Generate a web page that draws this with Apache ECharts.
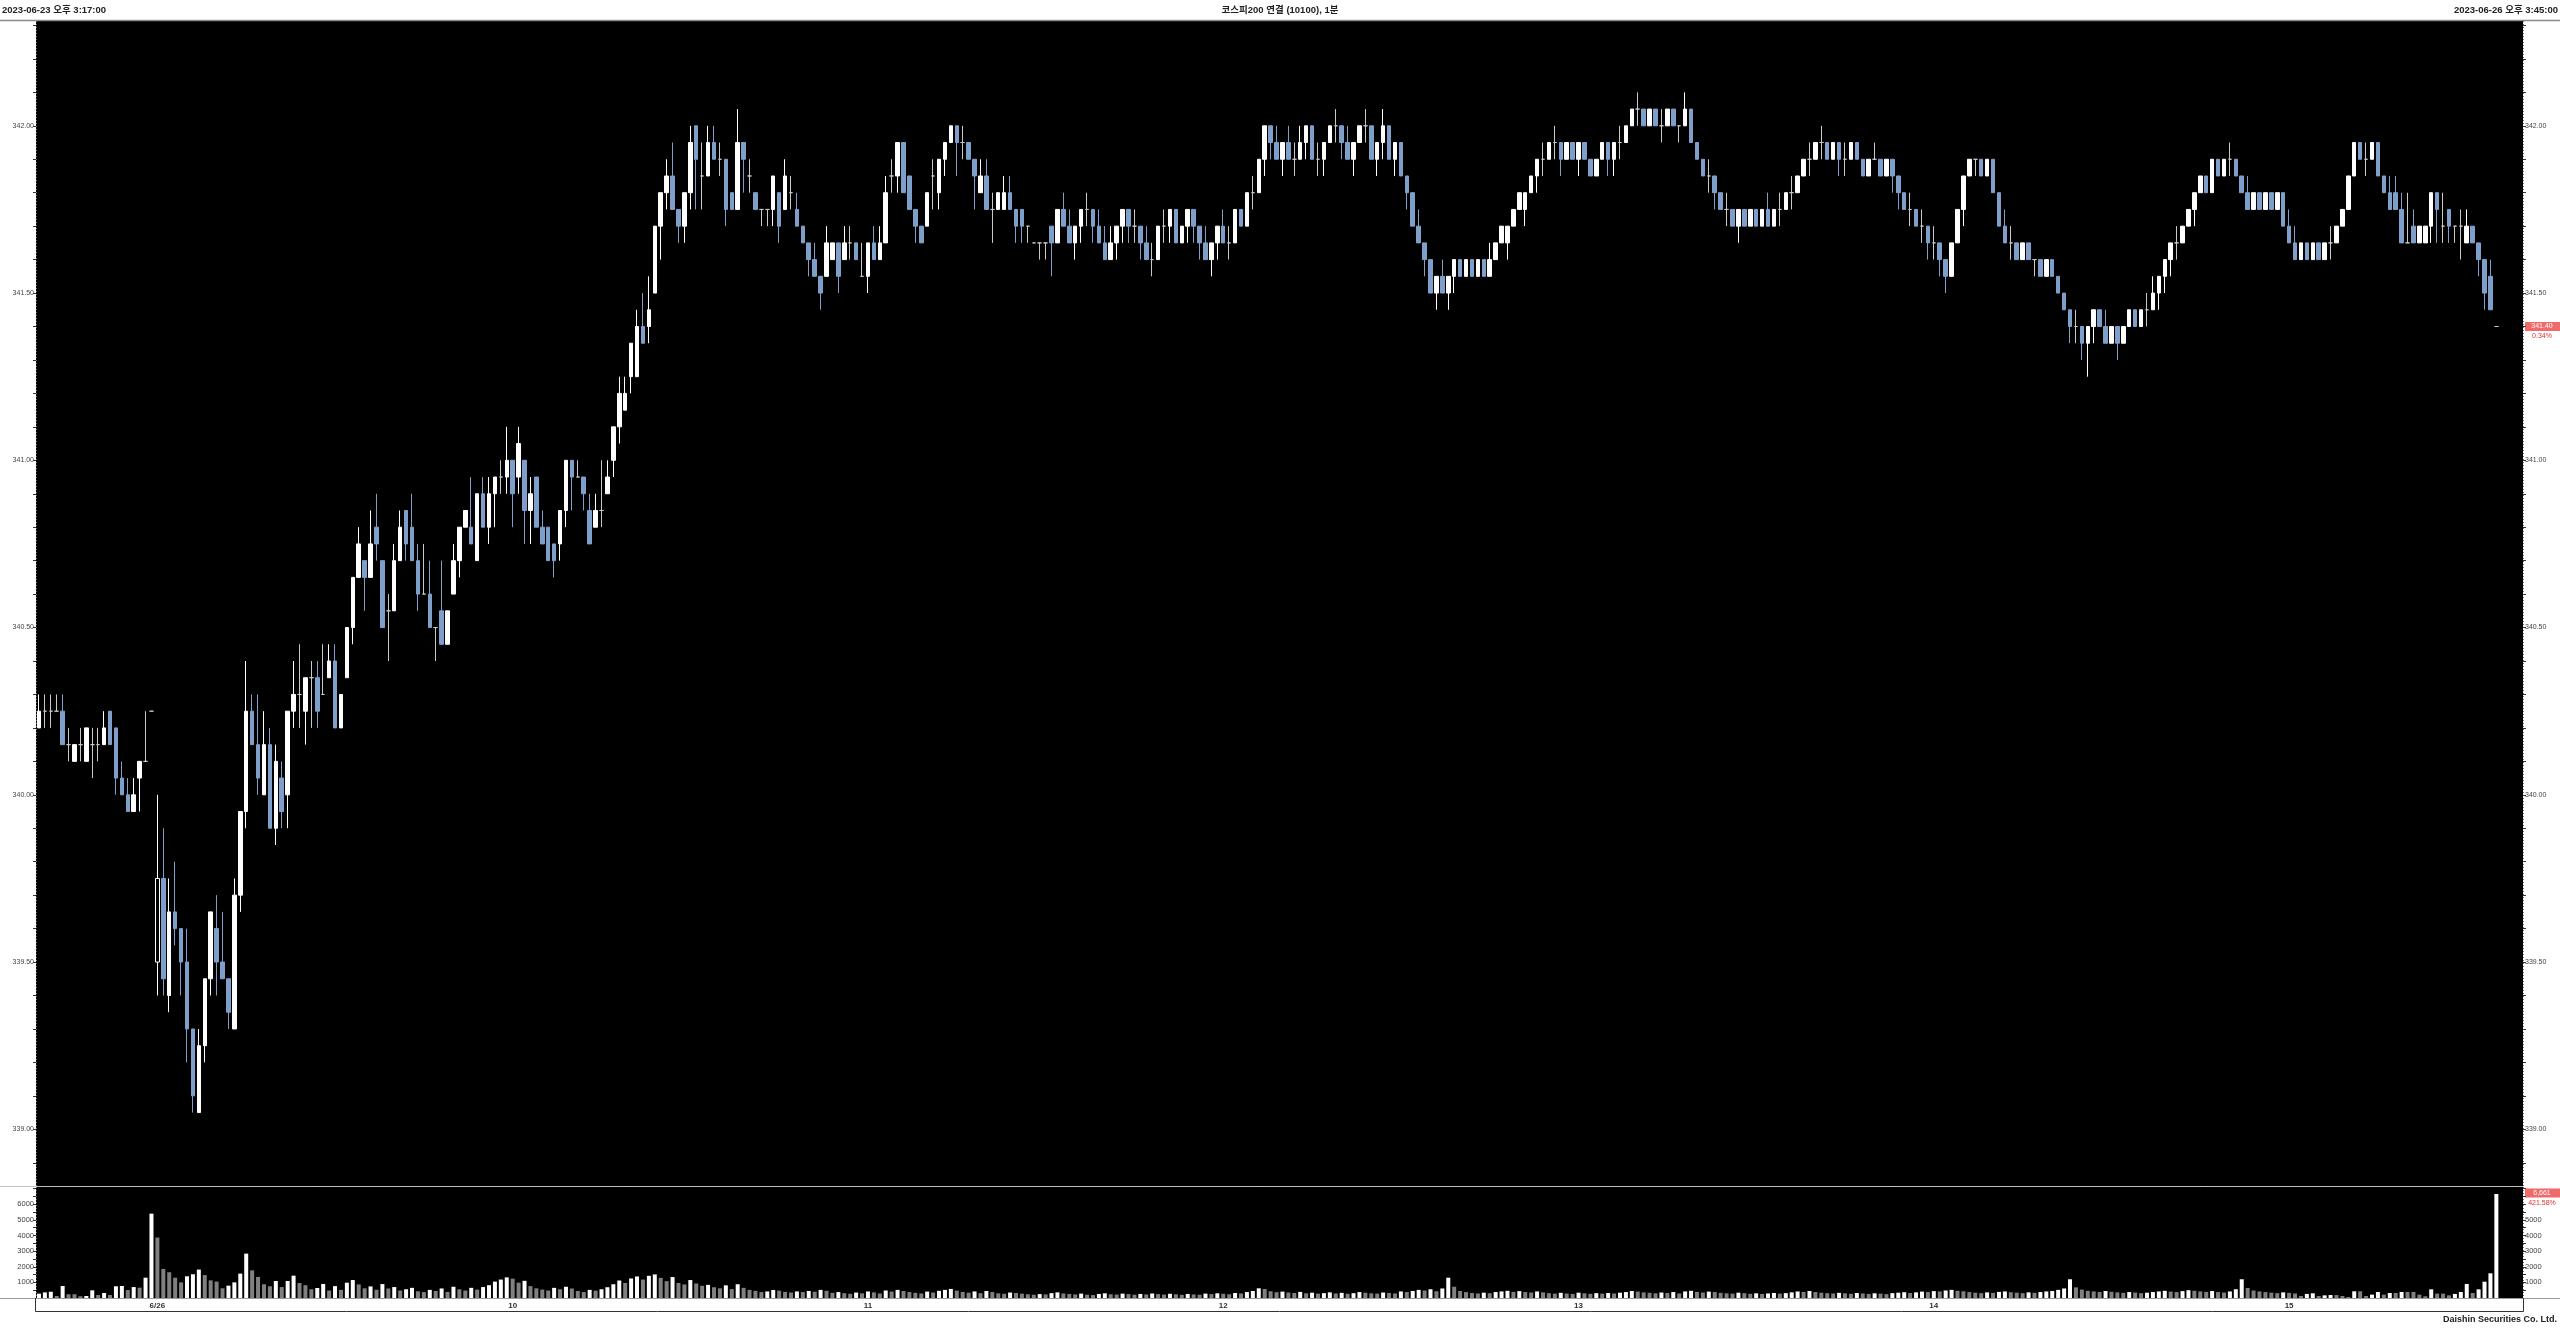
<!DOCTYPE html>
<html><head><meta charset="utf-8">
<script src="https://cdn.jsdelivr.net/npm/echarts@6/dist/echarts.min.js"></script>
<style>html,body{margin:0;padding:0;background:#fff}#c{width:2560px;height:1328px}</style>
</head><body><div id="c"></div>
<script>
const openP = [
340.20,340.25,340.25,340.25,340.25,340.15,340.10,340.15,340.10,340.15,
340.15,340.15,340.25,340.20,340.05,340.00,339.95,340.05,340.10,340.25,
339.50,339.75,339.40,339.65,339.60,339.50,339.30,339.05,339.25,339.45,
339.60,339.50,339.45,339.30,339.70,339.95,340.25,340.15,340.00,340.15,
339.90,340.05,340.00,340.25,340.30,340.25,340.35,340.35,340.30,340.35,
340.40,340.20,340.35,340.50,340.65,340.70,340.65,340.80,340.70,340.55,
340.55,340.70,340.85,340.80,340.70,340.60,340.60,340.50,340.55,340.45,
340.60,340.70,340.80,340.80,340.70,340.90,340.80,340.90,340.95,340.95,
341.00,340.95,341.00,340.85,340.95,340.80,340.80,340.75,340.75,340.85,
341.00,340.95,340.95,340.85,340.80,340.85,340.90,341.00,341.10,341.15,
341.25,341.25,341.40,341.40,341.50,341.70,341.80,341.85,341.75,341.70,
341.80,342.00,341.85,341.85,341.95,341.90,341.90,341.80,341.75,341.95,
341.85,341.80,341.75,341.75,341.75,341.80,341.75,341.80,341.75,341.70,
341.65,341.60,341.55,341.55,341.60,341.65,341.60,341.65,341.65,341.55,
341.55,341.65,341.60,341.65,341.85,341.85,341.95,341.85,341.75,341.70,
341.70,341.85,341.80,341.90,341.95,342.00,341.95,341.95,341.90,341.80,
341.85,341.75,341.75,341.75,341.80,341.75,341.75,341.70,341.65,341.65,
341.65,341.70,341.65,341.75,341.70,341.65,341.70,341.75,341.75,341.70,
341.65,341.60,341.65,341.70,341.75,341.70,341.70,341.65,341.60,341.60,
341.70,341.70,341.75,341.65,341.70,341.75,341.70,341.65,341.60,341.65,
341.70,341.65,341.65,341.75,341.70,341.80,341.80,341.90,342.00,341.95,
341.90,341.95,341.90,341.90,341.95,342.00,341.90,341.90,341.95,342.00,
342.00,341.95,341.90,341.95,342.00,342.00,341.90,341.95,342.00,341.90,
341.95,341.85,341.80,341.70,341.65,341.60,341.50,341.55,341.50,341.55,
341.60,341.55,341.60,341.55,341.60,341.55,341.60,341.65,341.65,341.70,
341.75,341.75,341.80,341.85,341.90,341.90,341.95,341.95,341.90,341.95,
341.90,341.95,341.90,341.85,341.90,341.95,341.90,341.95,341.95,342.00,
342.05,342.05,342.00,342.05,342.00,342.00,342.05,342.00,342.00,342.05,
341.95,341.90,341.85,341.85,341.80,341.75,341.75,341.70,341.75,341.70,
341.75,341.70,341.75,341.70,341.75,341.75,341.80,341.80,341.85,341.90,
341.90,341.95,341.95,341.90,341.95,341.90,341.90,341.95,341.90,341.85,
341.90,341.90,341.85,341.90,341.85,341.80,341.75,341.75,341.70,341.70,
341.65,341.65,341.60,341.55,341.65,341.75,341.85,341.90,341.90,341.85,
341.90,341.80,341.70,341.65,341.65,341.60,341.65,341.60,341.60,341.55,
341.60,341.55,341.50,341.45,341.40,341.40,341.35,341.40,341.45,341.40,
341.35,341.40,341.35,341.40,341.45,341.40,341.45,341.45,341.50,341.55,
341.60,341.65,341.65,341.70,341.75,341.80,341.85,341.80,341.90,341.85,
341.90,341.90,341.85,341.80,341.75,341.80,341.75,341.80,341.75,341.80,
341.70,341.65,341.60,341.65,341.60,341.65,341.60,341.65,341.65,341.70,
341.75,341.85,341.95,341.90,341.90,341.95,341.85,341.80,341.80,341.75,
341.65,341.70,341.65,341.65,341.70,341.80,341.70,341.75,341.70,341.70,
341.65,341.70,341.65,341.60,341.55,341.40];
const highP = [
340.30,340.30,340.30,340.30,340.30,340.20,340.15,340.20,340.20,340.20,
340.20,340.25,340.25,340.20,340.10,340.05,340.05,340.10,340.25,340.25,
340.00,339.90,339.75,339.80,339.60,339.60,339.30,339.30,339.45,339.65,
339.70,339.65,339.45,339.75,339.95,340.40,340.30,340.30,340.25,340.20,
340.15,340.10,340.25,340.40,340.45,340.35,340.40,340.40,340.45,340.45,
340.45,340.30,340.50,340.65,340.80,340.70,340.85,340.90,340.70,340.60,
340.75,340.85,340.85,340.90,340.75,340.75,340.70,340.50,340.70,340.55,
340.75,340.80,340.85,340.95,340.90,340.95,340.95,340.95,341.00,341.10,
341.00,341.10,341.00,340.95,340.95,340.85,340.80,340.75,340.85,341.00,
341.00,341.00,340.95,340.90,340.90,341.00,341.00,341.10,341.25,341.25,
341.35,341.45,341.50,341.55,341.70,341.80,341.90,341.95,341.75,341.80,
342.00,342.00,341.95,342.00,342.00,341.95,341.90,341.80,342.05,341.95,
341.90,341.80,341.75,341.75,341.85,341.80,341.90,341.85,341.80,341.70,
341.65,341.65,341.55,341.70,341.65,341.65,341.70,341.70,341.65,341.65,
341.65,341.70,341.70,341.85,341.90,341.95,341.95,341.85,341.75,341.70,
341.80,341.90,341.90,341.95,342.00,342.00,342.00,341.95,341.90,341.90,
341.90,341.80,341.80,341.85,341.85,341.75,341.75,341.70,341.65,341.65,
341.65,341.70,341.75,341.80,341.75,341.70,341.75,341.80,341.75,341.75,
341.70,341.70,341.70,341.75,341.75,341.75,341.70,341.70,341.65,341.70,
341.75,341.75,341.75,341.70,341.75,341.75,341.70,341.70,341.65,341.70,
341.75,341.70,341.75,341.75,341.80,341.85,341.90,342.00,342.00,342.00,
341.95,342.00,341.95,342.00,342.00,342.00,341.95,341.95,342.00,342.05,
342.00,342.00,341.95,342.00,342.05,342.00,341.95,342.05,342.00,341.95,
341.95,341.85,341.80,341.75,341.65,341.60,341.55,341.60,341.55,341.60,
341.60,341.60,341.60,341.60,341.60,341.65,341.65,341.70,341.70,341.75,
341.80,341.80,341.85,341.90,341.95,341.95,342.00,341.95,341.95,341.95,
341.95,341.95,341.90,341.90,341.95,341.95,341.95,342.00,342.00,342.05,
342.10,342.05,342.05,342.05,342.05,342.05,342.05,342.00,342.10,342.05,
341.95,341.90,341.90,341.85,341.80,341.80,341.75,341.75,341.75,341.75,
341.75,341.75,341.80,341.75,341.80,341.80,341.85,341.85,341.90,341.95,
341.95,342.00,341.95,341.95,341.95,341.95,341.95,341.95,341.90,341.90,
341.95,341.90,341.90,341.90,341.85,341.80,341.80,341.75,341.75,341.70,
341.70,341.65,341.60,341.65,341.75,341.85,341.90,341.90,341.90,341.90,
341.90,341.80,341.75,341.70,341.65,341.65,341.65,341.60,341.60,341.60,
341.60,341.55,341.50,341.45,341.45,341.40,341.40,341.45,341.45,341.45,
341.40,341.40,341.40,341.45,341.45,341.45,341.50,341.55,341.55,341.60,
341.65,341.70,341.70,341.75,341.80,341.85,341.85,341.90,341.90,341.90,
341.95,341.90,341.85,341.85,341.80,341.80,341.80,341.80,341.80,341.80,
341.75,341.70,341.65,341.65,341.65,341.65,341.65,341.70,341.70,341.75,
341.85,341.95,341.95,341.95,341.95,341.95,341.85,341.85,341.85,341.80,
341.80,341.75,341.70,341.70,341.80,341.80,341.80,341.75,341.70,341.75,
341.75,341.70,341.65,341.60,341.60,341.40];
const lowP = [
340.20,340.20,340.20,340.25,340.15,340.10,340.10,340.10,340.10,340.05,
340.10,340.15,340.15,340.00,340.00,339.95,339.95,339.95,340.10,340.25,
339.40,339.40,339.35,339.55,339.40,339.20,339.05,339.05,339.20,339.40,
339.40,339.45,339.30,339.30,339.65,339.90,340.15,340.00,340.00,339.90,
339.85,339.90,339.90,340.20,340.20,340.15,340.20,340.20,340.30,340.35,
340.20,340.20,340.35,340.45,340.65,340.55,340.65,340.70,340.50,340.40,
340.55,340.70,340.70,340.70,340.55,340.60,340.50,340.40,340.45,340.45,
340.60,340.65,340.80,340.75,340.70,340.80,340.75,340.80,340.90,340.90,
340.80,340.90,340.75,340.75,340.80,340.75,340.70,340.65,340.70,340.80,
340.85,340.95,340.85,340.75,340.80,340.80,340.90,340.95,341.05,341.15,
341.20,341.25,341.35,341.35,341.50,341.60,341.75,341.75,341.65,341.65,
341.75,341.75,341.75,341.85,341.90,341.85,341.70,341.75,341.75,341.80,
341.80,341.75,341.70,341.70,341.70,341.65,341.75,341.75,341.70,341.65,
341.55,341.55,341.45,341.55,341.60,341.50,341.60,341.60,341.60,341.55,
341.50,341.60,341.60,341.65,341.80,341.80,341.80,341.75,341.65,341.65,
341.70,341.75,341.75,341.85,341.95,341.85,341.90,341.90,341.75,341.80,
341.75,341.65,341.75,341.75,341.75,341.65,341.65,341.65,341.65,341.60,
341.60,341.55,341.65,341.70,341.65,341.60,341.65,341.70,341.65,341.65,
341.60,341.60,341.60,341.65,341.65,341.65,341.60,341.60,341.55,341.60,
341.65,341.65,341.65,341.65,341.65,341.65,341.60,341.60,341.55,341.60,
341.65,341.60,341.65,341.70,341.70,341.75,341.80,341.85,341.90,341.90,
341.85,341.90,341.85,341.90,341.90,341.90,341.85,341.85,341.95,341.95,
341.90,341.90,341.85,341.95,341.95,341.90,341.85,341.90,341.90,341.85,
341.85,341.75,341.70,341.65,341.55,341.50,341.45,341.50,341.45,341.50,
341.55,341.55,341.55,341.55,341.55,341.55,341.60,341.65,341.60,341.70,
341.75,341.70,341.80,341.80,341.85,341.90,341.90,341.85,341.90,341.90,
341.85,341.90,341.85,341.85,341.90,341.85,341.85,341.90,341.95,342.00,
342.00,342.00,342.00,342.00,341.95,342.00,342.00,341.95,342.00,341.95,
341.90,341.85,341.80,341.75,341.75,341.70,341.70,341.65,341.70,341.70,
341.70,341.70,341.70,341.70,341.70,341.75,341.75,341.80,341.85,341.85,
341.90,341.90,341.90,341.90,341.85,341.85,341.90,341.90,341.85,341.85,
341.90,341.85,341.85,341.80,341.75,341.75,341.70,341.70,341.65,341.60,
341.60,341.55,341.50,341.55,341.65,341.70,341.85,341.85,341.85,341.85,
341.80,341.70,341.65,341.60,341.60,341.60,341.60,341.55,341.55,341.55,
341.55,341.50,341.45,341.35,341.35,341.30,341.25,341.35,341.40,341.35,
341.35,341.30,341.35,341.40,341.40,341.40,341.40,341.45,341.45,341.50,
341.55,341.60,341.65,341.70,341.70,341.80,341.80,341.80,341.85,341.85,
341.85,341.85,341.80,341.75,341.75,341.75,341.75,341.75,341.75,341.70,
341.65,341.60,341.60,341.60,341.60,341.60,341.60,341.60,341.65,341.70,
341.75,341.85,341.90,341.85,341.90,341.85,341.80,341.75,341.75,341.65,
341.65,341.65,341.65,341.65,341.65,341.65,341.65,341.65,341.65,341.60,
341.65,341.65,341.55,341.45,341.45,341.40];
const closeP = [
340.25,340.25,340.25,340.25,340.15,340.15,340.15,340.15,340.20,340.15,
340.15,340.20,340.15,340.05,340.00,339.95,340.00,340.10,340.10,340.25,
339.75,339.45,339.65,339.60,339.50,339.30,339.10,339.25,339.45,339.65,
339.50,339.45,339.35,339.70,339.95,340.25,340.15,340.05,340.15,339.90,
340.10,339.95,340.25,340.30,340.30,340.35,340.35,340.25,340.30,340.40,
340.20,340.30,340.50,340.65,340.75,340.65,340.75,340.75,340.50,340.55,
340.70,340.80,340.75,340.70,340.60,340.60,340.50,340.50,340.45,340.55,
340.70,340.80,340.85,340.75,340.90,340.80,340.90,340.95,340.95,341.00,
340.90,341.05,340.85,340.90,340.80,340.75,340.70,340.70,340.85,341.00,
340.95,340.95,340.90,340.75,340.85,340.85,340.95,341.10,341.20,341.20,
341.35,341.40,341.35,341.45,341.70,341.80,341.85,341.75,341.70,341.80,
341.95,341.90,341.85,341.95,341.90,341.90,341.75,341.75,341.95,341.90,
341.85,341.75,341.75,341.75,341.85,341.70,341.85,341.80,341.70,341.65,
341.60,341.55,341.50,341.65,341.65,341.55,341.65,341.65,341.60,341.55,
341.65,341.60,341.65,341.80,341.85,341.95,341.80,341.75,341.70,341.65,
341.80,341.85,341.90,341.95,342.00,341.95,341.95,341.90,341.85,341.85,
341.75,341.75,341.80,341.80,341.75,341.70,341.70,341.70,341.65,341.65,
341.65,341.65,341.75,341.70,341.65,341.70,341.75,341.75,341.70,341.65,
341.60,341.65,341.70,341.75,341.70,341.70,341.65,341.60,341.60,341.70,
341.70,341.75,341.65,341.70,341.75,341.70,341.65,341.60,341.65,341.70,
341.65,341.65,341.75,341.70,341.80,341.80,341.90,342.00,341.95,341.90,
341.95,341.90,341.90,341.95,342.00,341.90,341.90,341.95,342.00,342.00,
341.95,341.90,341.95,342.00,342.00,341.90,341.95,342.00,341.90,341.95,
341.85,341.80,341.70,341.65,341.60,341.50,341.55,341.50,341.55,341.60,
341.55,341.60,341.55,341.60,341.55,341.60,341.65,341.70,341.70,341.75,
341.80,341.80,341.85,341.90,341.90,341.95,341.95,341.90,341.95,341.90,
341.95,341.90,341.85,341.90,341.95,341.90,341.95,341.95,342.00,342.05,
342.05,342.00,342.05,342.00,342.00,342.05,342.00,342.00,342.05,341.95,
341.90,341.85,341.85,341.80,341.75,341.75,341.70,341.75,341.70,341.75,
341.70,341.75,341.70,341.75,341.75,341.80,341.80,341.85,341.90,341.90,
341.95,341.95,341.90,341.95,341.90,341.90,341.95,341.90,341.85,341.90,
341.90,341.85,341.90,341.85,341.80,341.75,341.75,341.70,341.70,341.65,
341.65,341.60,341.55,341.65,341.75,341.85,341.90,341.90,341.85,341.90,
341.80,341.70,341.65,341.65,341.60,341.65,341.60,341.60,341.55,341.60,
341.55,341.50,341.45,341.40,341.40,341.35,341.40,341.45,341.40,341.35,
341.40,341.35,341.40,341.45,341.40,341.45,341.45,341.50,341.55,341.60,
341.65,341.65,341.70,341.75,341.80,341.85,341.80,341.90,341.85,341.90,
341.90,341.85,341.80,341.75,341.80,341.75,341.80,341.75,341.80,341.70,
341.65,341.60,341.65,341.60,341.65,341.60,341.65,341.65,341.70,341.75,
341.85,341.95,341.90,341.90,341.95,341.85,341.80,341.75,341.75,341.65,
341.65,341.65,341.70,341.70,341.80,341.75,341.70,341.70,341.70,341.70,
341.70,341.65,341.60,341.50,341.45,341.40];
const volume = [
280,360,400,130,770,240,240,110,130,490,
190,320,190,750,770,510,700,660,1300,5400,
3870,1860,1650,1300,1000,1390,1520,1820,1470,1130,
1050,620,790,1000,1560,2840,1770,1350,880,750,
1090,700,1090,1430,960,820,560,640,900,480,
760,520,980,1150,870,620,740,530,890,610,
700,480,560,650,430,380,520,450,610,390,
720,560,480,650,540,700,820,1050,1180,1320,
1240,980,1100,760,620,540,480,650,560,720,
610,450,380,520,470,560,690,880,1120,960,
1250,1380,1180,1420,1510,1290,1080,1340,960,870,
1150,930,780,840,690,620,810,570,880,650,
520,460,380,420,510,470,390,350,420,380,
450,400,520,460,330,380,310,270,350,300,
420,360,290,480,410,520,450,380,330,290,
410,350,460,520,580,470,390,340,420,310,
450,380,300,270,350,320,280,240,210,250,
230,310,360,290,260,230,280,210,190,260,
300,240,220,280,250,210,260,230,290,250,
220,270,240,200,260,230,210,280,250,300,
270,240,320,290,380,450,620,580,430,370,
410,350,320,390,300,340,280,310,360,290,
330,270,310,380,340,300,280,350,320,290,
420,380,450,520,480,560,430,610,1300,720,
450,380,320,290,340,310,380,420,460,390,
440,380,350,420,360,310,280,330,290,260,
340,300,270,310,280,320,290,340,380,450,
410,360,330,300,350,320,380,290,420,460,
390,350,410,380,330,300,280,340,310,270,
300,260,290,320,280,310,360,420,390,450,
380,340,310,290,330,300,270,320,290,260,
300,280,250,310,340,370,320,360,410,380,
440,420,480,520,460,430,380,340,310,360,
330,390,420,370,340,310,360,330,380,420,
450,520,610,1200,680,540,460,420,380,450,
400,360,330,380,350,310,340,380,420,460,
410,380,440,500,460,420,390,450,380,350,
420,560,1200,640,480,420,380,340,310,360,
330,290,130,260,300,130,170,190,190,130,
65,430,430,130,215,385,215,320,320,385,
385,385,215,110,555,280,280,170,260,385,
900,320,555,1045,1580,6661];
const priceLabels = [339.00,339.50,340.00,340.50,341.00,341.50,342.00];
const priceTickMarks = [338.9,339.0,339.1,339.2,339.3,339.4,339.5,339.6,339.7,339.8,339.9,340.0,340.1,340.2,340.3,340.4,340.5,340.6,340.7,340.8,340.9,341.0,341.1,341.2,341.3,341.4,341.5,341.6,341.7,341.8,341.9,342.0,342.1,342.2,342.3];
const volumeLabelsLeft = [1000,2000,3000,4000,5000,6000];
const volumeLabelsRight = [1000,2000,3000,4000,5000];
const volumeTickMarks = [500,1000,1500,2000,2500,3000,3500,4000,4500,5000,5500,6000,6500,7000];
const hourLabels = {'06/26 09:00':'6/26','06/26 10:00':'10','06/26 11:00':'11','06/26 12:00':'12','06/26 13:00':'13','06/26 14:00':'14','06/26 15:00':'15'};
const lastPrice = '341.40', lastPct = '0.34%', lastVol = '6,661', lastVolPct = '421.58%';

// time categories (1-minute bars)
function hm(m){return String(Math.floor(m/60)).padStart(2,'0')+':'+String(m%60).padStart(2,'0');}
const categories = [];
for (let m = 15*60+17; m <= 15*60+35; m++) categories.push('06/23 ' + hm(m));
categories.push('06/23 15:45');
for (let m = 9*60; m <= 15*60+34; m++) categories.push('06/26 ' + hm(m));
categories.push('06/26 15:45');
const N = categories.length;
const axisCats = categories.concat(['', ' ', '  ', '   ']);

const BLUE = '#7f9fcb';
const FONT = "'Liberation Sans', Arial, 'Noto Sans CJK KR', sans-serif";

const candleData = [];
const volData = [];
for (let i = 0; i < N; i++) {
  const o = openP[i], c = closeP[i];
  if (o == null) { candleData.push('-'); } else {
    const pc = i > 0 ? closeP[i-1] : null;
    const up = c > o, down = c < o;
    const item = {value: [o, c, lowP[i], highP[i]]};
    if (pc != null && ((up && c < pc) || (down && c > pc))) {
      item.itemStyle = up ? {color: '#000', borderColor: '#fff'} : {color0: '#000', borderColor0: BLUE};
    }
    candleData.push(item);
  }
  const v = volume[i];
  if (v == null) volData.push('-');
  else volData.push({value: v, itemStyle: {color: (i > 0 && volume[i-1] != null && v <= volume[i-1]) ? '#808080' : '#ffffff'}});
}

const PMAX = 342 + (125.8 - 21) / 334.5;
const PMIN = 342 - (1186 - 125.8) / 334.5;
const VMAX = 7107;

const sepLine = {show: true, interval: (i) => i === 20, lineStyle: {color: '#707070', type: [1, 2], width: 1}};
const priceAxis = (pos) => ({
  type: 'value', gridIndex: 0, position: pos, min: PMIN, max: PMAX,
  axisLine: {show: false}, splitLine: {show: false},
  axisTick: {show: true, customValues: priceTickMarks, length: 3, lineStyle: {color: '#333'}},
  axisLabel: {customValues: priceLabels, formatter: v => v.toFixed(2), fontSize: 7, color: '#444', margin: 2, fontFamily: FONT}
});
const volAxis = (pos, labels) => ({
  type: 'value', gridIndex: 1, position: pos, min: 0, max: VMAX,
  axisLine: {show: false}, splitLine: {show: false},
  axisTick: {show: true, customValues: volumeTickMarks, length: 3, lineStyle: {color: '#333'}},
  axisLabel: {customValues: labels, formatter: v => String(v), fontSize: 7.5, color: '#444', margin: 2, fontFamily: FONT}
});

const chart = echarts.init(document.getElementById('c'), null, {renderer: 'canvas', width: 2560, height: 1328});
chart.setOption({
  animation: false,
  backgroundColor: '#fff',
  grid: [
    {left: 36, top: 21, width: 2487, height: 1165, show: true, backgroundColor: '#000', borderWidth: 0},
    {left: 36, top: 1187, width: 2487, height: 111, show: true, backgroundColor: '#000', borderWidth: 0}
  ],
  xAxis: [
    {type: 'category', gridIndex: 0, data: axisCats, boundaryGap: true, axisLine: {show: false}, axisTick: {show: false}, axisLabel: {show: false}, splitLine: sepLine},
    {type: 'category', gridIndex: 1, data: axisCats, boundaryGap: true, axisLine: {show: false}, axisTick: {show: false}, splitLine: sepLine,
     axisLabel: {show: true, interval: (i, v) => v in hourLabels, formatter: v => hourLabels[v] || '', fontSize: 8, fontWeight: 'bold', color: '#333', margin: 4, fontFamily: FONT}}
  ],
  yAxis: [priceAxis('left'), priceAxis('right'), volAxis('left', volumeLabelsLeft), volAxis('right', volumeLabelsRight)],
  series: [
    {type: 'candlestick', xAxisIndex: 0, yAxisIndex: 0, data: candleData, barWidth: 4,
     itemStyle: {color: '#ffffff', color0: BLUE, borderColor: '#ffffff', borderColor0: BLUE, borderColorDoji: '#c8c8c8', borderWidth: 1}},
    {type: 'bar', xAxisIndex: 1, yAxisIndex: 2, data: volData, barWidth: 4}
  ],
  graphic: [
    {type: 'line', shape: {x1: 0, y1: 20.5, x2: 2560, y2: 20.5}, style: {stroke: '#8a8a8a', lineWidth: 1.5}, silent: true},
    {type: 'line', shape: {x1: 0, y1: 1186.5, x2: 2523, y2: 1186.5}, style: {stroke: '#c0c0c0', lineWidth: 1}, silent: true},
    {type: 'line', shape: {x1: 0, y1: 1298.5, x2: 2560, y2: 1298.5}, style: {stroke: '#9a9a9a', lineWidth: 1}, silent: true},
    {type: 'line', shape: {x1: 35.5, y1: 1298, x2: 35.5, y2: 1311.5}, style: {stroke: '#333', lineWidth: 1}, silent: true},
    {type: 'line', shape: {x1: 2523.5, y1: 1298, x2: 2523.5, y2: 1311.5}, style: {stroke: '#333', lineWidth: 1}, silent: true},
    {type: 'line', shape: {x1: 35.5, y1: 1311.5, x2: 2523.5, y2: 1311.5}, style: {stroke: '#333', lineWidth: 1}, silent: true},
    {type: 'text', x: 2, y: 10, style: {text: '2023-06-23 오후 3:17:00', font: 'bold 9.5px ' + FONT, fill: '#222', textVerticalAlign: 'middle'}},
    {type: 'text', x: 1280, y: 10, style: {text: '코스피200 연결 (10100), 1분', font: 'bold 9.5px ' + FONT, fill: '#222', textAlign: 'center', textVerticalAlign: 'middle'}},
    {type: 'text', x: 2558, y: 10, style: {text: '2023-06-26 오후 3:45:00', font: 'bold 9.5px ' + FONT, fill: '#222', textAlign: 'right', textVerticalAlign: 'middle'}},
    {type: 'rect', shape: {x: 2525, y: 322, width: 35, height: 9}, style: {fill: '#f06a6a'}},
    {type: 'text', x: 2542, y: 326.5, style: {text: lastPrice, font: '7px ' + FONT, fill: '#fff', textAlign: 'center', textVerticalAlign: 'middle'}},
    {type: 'text', x: 2542, y: 336.5, style: {text: lastPct, font: '7px ' + FONT, fill: '#e03030', textAlign: 'center', textVerticalAlign: 'middle'}},
    {type: 'rect', shape: {x: 2525, y: 1188.5, width: 35, height: 9}, style: {fill: '#f06a6a'}},
    {type: 'text', x: 2542, y: 1193, style: {text: lastVol, font: '7px ' + FONT, fill: '#fff', textAlign: 'center', textVerticalAlign: 'middle'}},
    {type: 'text', x: 2542, y: 1203.5, style: {text: lastVolPct, font: '7px ' + FONT, fill: '#e03030', textAlign: 'center', textVerticalAlign: 'middle'}},
    {type: 'text', x: 2557, y: 1320, style: {text: 'Daishin Securities Co. Ltd.', font: 'bold 9px ' + FONT, fill: '#222', textAlign: 'right', textVerticalAlign: 'middle'}}
  ]
});
</script></body></html>
